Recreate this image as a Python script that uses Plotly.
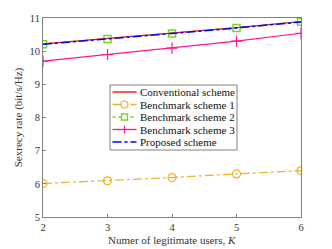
import plotly.graph_objects as go

K = [2, 3, 4, 5, 6]
conventional = [10.22, 10.38, 10.54, 10.71, 10.89]
bench1 = [6.01, 6.09, 6.19, 6.30, 6.40]
bench2 = [10.21, 10.37, 10.53, 10.70, 10.89]
bench3 = [9.70, 9.90, 10.09, 10.30, 10.54]
proposed = [10.21, 10.37, 10.53, 10.70, 10.88]
names = ["Conventional scheme", "Benchmark scheme 1", "Benchmark scheme 2",
         "Benchmark scheme 3", "Proposed scheme"]
x_title = "Numer of legitimate users, <i>K</i>"
y_title = "Sexrecy rate (bit/s/Hz)"

RED, ORANGE, GREEN, MAGENTA, BLUE = "#FF0000", "#EDB120", "#77D42C", "#FF1493", "#0000FF"
FONT = "Liberation Serif"

fig = go.Figure()
fig.add_trace(go.Scatter(x=K, y=conventional, name=names[0], mode="lines",
                         line=dict(color=RED, width=1.2)))
fig.add_trace(go.Scatter(x=K, y=bench1, name=names[1], mode="lines+markers",
                         line=dict(color=ORANGE, width=1.2, dash="dashdot"),
                         marker=dict(symbol="circle-open", size=8, color=ORANGE, line=dict(width=1.2))))
fig.add_trace(go.Scatter(x=K, y=bench2, name=names[2], mode="lines+markers",
                         line=dict(color=GREEN, width=1.2, dash="dot"),
                         marker=dict(symbol="square-open", size=7, color=GREEN, line=dict(width=1.5))))
fig.add_trace(go.Scatter(x=K, y=bench3, name=names[3], mode="lines+markers",
                         line=dict(color=MAGENTA, width=1.2),
                         marker=dict(symbol="cross-thin-open", size=8, color=MAGENTA,
                                     line=dict(width=1.2, color=MAGENTA))))
fig.add_trace(go.Scatter(x=K, y=proposed, name=names[4], mode="lines",
                         line=dict(color=BLUE, width=1.5, dash="dashdot")))

# ---- custom legend (paper coordinates) ----
L, T, W, H = 43, 18, 258, 199
px = lambda v: (v - L) / W
py = lambda v: (T + H - v) / H

shapes = [dict(type="rect", xref="paper", yref="paper",
               x0=px(110), x1=px(237), y0=py(150), y1=py(85),
               line=dict(color="#808080", width=1), fillcolor="white", layer="above")]
annotations = []
rows = [92, 104.5, 117, 129.5, 142]
styles = [(RED, "solid", None), (ORANGE, "dashdot", "circle"), (GREEN, "dot", "square"),
          (MAGENTA, "solid", "cross"), (BLUE, "dashdot", None)]
for name, r, (col, dash, mk) in zip(names, rows, styles):
    shapes.append(dict(type="line", xref="paper", yref="paper", x0=px(112.5), x1=px(136.5),
                       y0=py(r), y1=py(r), line=dict(color=col, width=1.3, dash=dash), layer="above"))
    cx, hs = 124.5, 3.5
    if mk == "circle":
        shapes.append(dict(type="circle", xref="paper", yref="paper", x0=px(cx - hs), x1=px(cx + hs),
                           y0=py(r + hs), y1=py(r - hs), line=dict(color=col, width=1.2),
                           fillcolor="white", layer="above"))
    elif mk == "square":
        shapes.append(dict(type="rect", xref="paper", yref="paper", x0=px(cx - 3), x1=px(cx + 3),
                           y0=py(r + 3), y1=py(r - 3), line=dict(color=col, width=1.4),
                           fillcolor="white", layer="above"))
    elif mk == "cross":
        shapes.append(dict(type="line", xref="paper", yref="paper", x0=px(cx), x1=px(cx),
                           y0=py(r + 4), y1=py(r - 4), line=dict(color=col, width=1.2), layer="above"))
    annotations.append(dict(text=name, xref="paper", yref="paper", x=px(138), y=py(r),
                            xanchor="left", yanchor="middle", showarrow=False,
                            font=dict(family=FONT, size=11, color="#111")))

# x-axis title placed precisely
annotations.append(dict(text=x_title, xref="paper", yref="paper", x=0.5, y=py(240.5),
                        xanchor="center", yanchor="middle", showarrow=False,
                        font=dict(family=FONT, size=11, color="#333")))

axis_common = dict(showline=True, linecolor="#808080", linewidth=1, mirror=True,
                   ticks="inside", ticklen=3, tickcolor="#808080", showgrid=False,
                   zeroline=False, automargin=False,
                   tickfont=dict(family=FONT, size=10.5, color="#333"))

fig.update_layout(
    width=332, height=249,
    margin=dict(l=L, r=332 - L - W, t=T, b=249 - T - H),
    paper_bgcolor="white", plot_bgcolor="white",
    font=dict(family=FONT, size=10.5, color="#333"),
    xaxis=dict(range=[2, 6], tickvals=[2, 3, 4, 5, 6], **axis_common),
    yaxis=dict(range=[5, 11], tickvals=[5, 6, 7, 8, 9, 10, 11], **axis_common,
               title=dict(text=y_title, standoff=4,
                          font=dict(family=FONT, size=11, color="#333"))),
    shapes=shapes, annotations=annotations,
    showlegend=False,
)

fig.write_html("out.html", config={"displayModeBar": False},
               post_script="document.body.style.margin='0';document.body.style.overflow='hidden';")
